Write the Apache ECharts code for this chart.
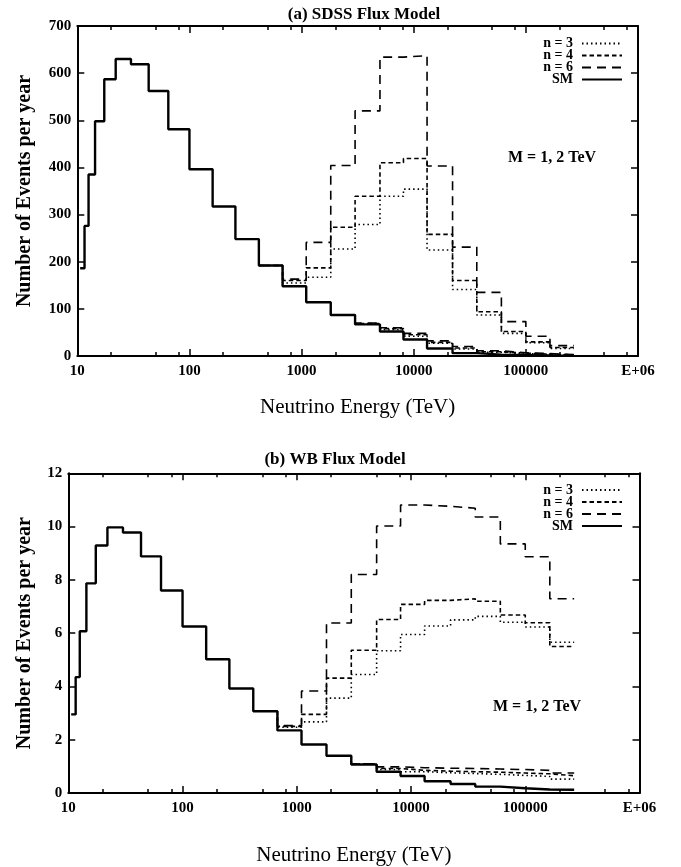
<!DOCTYPE html>
<html><head><meta charset="utf-8">
<script src="https://cdn.jsdelivr.net/npm/echarts@6/dist/echarts.min.js"></script>
<style>html,body{margin:0;padding:0;background:#fff}#c{width:681px;height:867px}</style>
</head><body><div id="c"></div>
<script>
// ---- data ----
const binEdges = [10.6, 11.6, 12.6, 14.4, 17.4, 22, 30.1, 43.3, 64.8, 100, 161, 257, 416, 677, 1100, 1820, 3000, 5000, 8100, 13150, 22200, 36500, 60500, 100000, 164000, 268000];
const xTickLabels = ['10', '100', '1000', '10000', '100000', 'E+06'];
const xMajorTicks = [10, 100, 1000, 10000, 100000, 1000000];
const xMinorTicks = [20, 50, 80, 200, 500, 800, 2000, 5000, 8000, 20000, 50000, 80000, 200000, 500000, 800000];
const legendNames = ['n = 3', 'n = 4', 'n = 6', 'SM'];

// (a) SDSS flux model
const sdssSM = [186, 276, 385, 498, 587, 630, 619, 562, 481, 396, 317, 248, 192, 148, 114, 87, 67, 52, 35, 16, 6, 3, 2, 1, 0.5];
const sdssM1Start = 12;
const sdssN3M1 = [192, 155, 167, 227, 279, 339, 354, 225, 141, 87, 48, 28, 16];
const sdssN4M1 = [192, 160, 187, 273, 339, 410, 419, 258, 160, 94, 52, 30, 18];
const sdssN6M1 = [192, 163, 241, 404, 520, 634, 637, 403, 231, 135, 73, 42, 22];
const sdssM2Start = 15;
const sdssN3M2 = [87, 68, 56, 42, 27, 15, 8, 5, 3.5, 2];
const sdssN4M2 = [87, 69, 58, 45, 29, 17, 9, 6, 4, 2.5];
const sdssN6M2 = [87, 70, 60, 48, 32, 20, 11, 7, 5, 3];

// (b) WB flux model
const wbSM = [2.95, 4.35, 6.07, 7.87, 9.29, 9.97, 9.78, 8.88, 7.60, 6.25, 5.02, 3.92, 3.07, 2.35, 1.82, 1.40, 1.07, 0.80, 0.64, 0.44, 0.34, 0.24, 0.18, 0.13, 0.12];
const wbM1Start = 12;
const wbN3M1 = [3.07, 2.47, 2.67, 3.56, 4.45, 5.34, 5.95, 6.27, 6.50, 6.63, 6.41, 6.23, 5.66];
const wbN4M1 = [3.07, 2.50, 2.95, 4.31, 5.36, 6.51, 7.08, 7.23, 7.29, 7.20, 6.68, 6.39, 5.50];
const wbN6M1 = [3.07, 2.53, 3.83, 6.38, 8.20, 10.02, 10.81, 10.76, 10.69, 10.36, 9.35, 8.87, 7.29];
const wbM2Start = 15;
const wbN3M2 = [1.40, 1.08, 0.88, 0.80, 0.76, 0.73, 0.70, 0.66, 0.62, 0.52];
const wbN4M2 = [1.40, 1.09, 0.92, 0.85, 0.82, 0.80, 0.78, 0.75, 0.72, 0.65];
const wbN6M2 = [1.40, 1.10, 0.98, 0.95, 0.93, 0.92, 0.90, 0.88, 0.85, 0.75];

// ---- build ----
const FONT = 'Liberation Serif';
function hist(vals, start) {
  const pts = vals.map((v, i) => [binEdges[start + i], v]);
  pts.push([binEdges[start + vals.length], vals[vals.length - 1]]);
  return pts;
}
const lineStyles = {
  'n = 3': { color: '#000', width: 1.6, type: [1.5, 3] },
  'n = 4': { color: '#000', width: 1.6, type: [4.5, 3] },
  'n = 6': { color: '#000', width: 1.6, type: [9, 6] },
  'SM': { color: '#000', width: 2.4, type: 'solid' }
};
function ser(name, data, gi) {
  return {
    type: 'line', name: name, data: data, step: 'end', symbol: 'none',
    xAxisIndex: gi * 4, yAxisIndex: gi * 2,
    lineStyle: lineStyles[name], itemStyle: { color: '#000' },
    animation: false, silent: true, z: name === 'SM' ? 3 : 2
  };
}
function xAxes(gi, nameGap) {
  const base = { type: 'log', logBase: 10, min: 10, max: 1000000, gridIndex: gi, splitLine: { show: false } };
  const lab = {
    customValues: xMajorTicks, margin: 8, color: '#000', fontFamily: FONT, fontSize: 15, fontWeight: 'bold',
    formatter: v => xTickLabels[Math.round(Math.log10(v)) - 1]
  };
  return [
    Object.assign({}, base, {
      position: 'bottom', axisLine: { show: true, onZero: false, lineStyle: { color: '#000', width: 2 } },
      axisTick: { show: true, inside: true, length: 7, customValues: xMajorTicks, lineStyle: { color: '#000', width: 1.5 } },
      axisLabel: lab,
      name: 'Neutrino Energy (TeV)', nameLocation: 'middle', nameGap: nameGap,
      nameTextStyle: { color: '#000', fontFamily: FONT, fontSize: 21 }
    }),
    Object.assign({}, base, {
      position: 'bottom', axisLine: { show: false, onZero: false },
      axisTick: { show: true, inside: true, length: 4, customValues: xMinorTicks, lineStyle: { color: '#000', width: 1.5 } },
      axisLabel: { show: false }
    }),
    Object.assign({}, base, {
      position: 'top', axisLine: { show: true, onZero: false, lineStyle: { color: '#000', width: 2 } },
      axisTick: { show: true, inside: true, length: 7, customValues: xMajorTicks, lineStyle: { color: '#000', width: 1.5 } },
      axisLabel: { show: false }
    }),
    Object.assign({}, base, {
      position: 'top', axisLine: { show: false, onZero: false },
      axisTick: { show: true, inside: true, length: 4, customValues: xMinorTicks, lineStyle: { color: '#000', width: 1.5 } },
      axisLabel: { show: false }
    })
  ];
}
function yAxes(gi, max, interval, nameGap) {
  const base = { type: 'value', gridIndex: gi, min: 0, max: max, interval: interval, splitLine: { show: false } };
  return [
    Object.assign({}, base, {
      position: 'left', axisLine: { show: true, onZero: false, lineStyle: { color: '#000', width: 2 } },
      axisTick: { show: true, inside: true, length: 7, lineStyle: { color: '#000', width: 1.5 } },
      axisLabel: { margin: 6, color: '#000', fontFamily: FONT, fontSize: 15, fontWeight: 'bold' },
      name: 'Number of Events per year', nameLocation: 'middle', nameGap: nameGap, nameRotate: 90,
      nameTextStyle: { color: '#000', fontFamily: FONT, fontSize: 20, fontWeight: 'bold' }
    }),
    Object.assign({}, base, {
      position: 'right', axisLine: { show: true, onZero: false, lineStyle: { color: '#000', width: 2 } },
      axisTick: { show: true, inside: true, length: 7, lineStyle: { color: '#000', width: 1.5 } },
      axisLabel: { show: false }
    })
  ];
}
function legend(top) {
  return {
    orient: 'vertical', align: 'right', right: 58, top: top, padding: 0,
    itemWidth: 40, itemHeight: 9, itemGap: -2, selectedMode: false,
    data: legendNames,
    itemStyle: { opacity: 0, borderWidth: 0 },
    textStyle: { color: '#000', fontFamily: FONT, fontSize: 14, fontWeight: 'bold', padding: [0, 4, 0, 0] }
  };
}

const series = [
  ser('n = 3', hist(sdssN3M1, sdssM1Start), 0),
  ser('n = 4', hist(sdssN4M1, sdssM1Start), 0),
  ser('n = 6', hist(sdssN6M1, sdssM1Start), 0),
  ser('n = 3', hist(sdssN3M2, sdssM2Start), 0),
  ser('n = 4', hist(sdssN4M2, sdssM2Start), 0),
  ser('n = 6', hist(sdssN6M2, sdssM2Start), 0),
  ser('SM', hist(sdssSM, 0), 0),
  ser('n = 3', hist(wbN3M1, wbM1Start), 1),
  ser('n = 4', hist(wbN4M1, wbM1Start), 1),
  ser('n = 6', hist(wbN6M1, wbM1Start), 1),
  ser('n = 3', hist(wbN3M2, wbM2Start), 1),
  ser('n = 4', hist(wbN4M2, wbM2Start), 1),
  ser('n = 6', hist(wbN6M2, wbM2Start), 1),
  ser('SM', hist(wbSM, 0), 1)
];

const chart = echarts.init(document.getElementById('c'), null, { renderer: 'canvas' });
chart.setOption({
  backgroundColor: '#fff',
  animation: false,
  grid: [
    { left: 77.3, top: 26, width: 560.7, height: 330, containLabel: false },
    { left: 68.3, top: 473.3, width: 571.2, height: 329.4, containLabel: false }
  ],
  xAxis: xAxes(0, 41).concat(xAxes(1, 52)),
  yAxis: yAxes(0, 700, 100, 42).concat(yAxes(1, 12, 2, 33)),
  legend: [legend(36.5), legend(483)],
  graphic: [
    { type: 'text', x: 364, y: 15, style: { text: '(a) SDSS Flux Model', fill: '#000', font: 'bold 17px "Liberation Serif"', textAlign: 'center', textVerticalAlign: 'middle' } },
    { type: 'text', x: 335, y: 460, style: { text: '(b) WB Flux Model', fill: '#000', font: 'bold 17px "Liberation Serif"', textAlign: 'center', textVerticalAlign: 'middle' } },
    { type: 'text', x: 508, y: 158, style: { text: 'M = 1, 2 TeV', fill: '#000', font: 'bold 16px "Liberation Serif"', textAlign: 'left', textVerticalAlign: 'middle' } },
    { type: 'text', x: 493, y: 707, style: { text: 'M = 1, 2 TeV', fill: '#000', font: 'bold 16px "Liberation Serif"', textAlign: 'left', textVerticalAlign: 'middle' } }
  ],
  series: series
});
</script></body></html>
